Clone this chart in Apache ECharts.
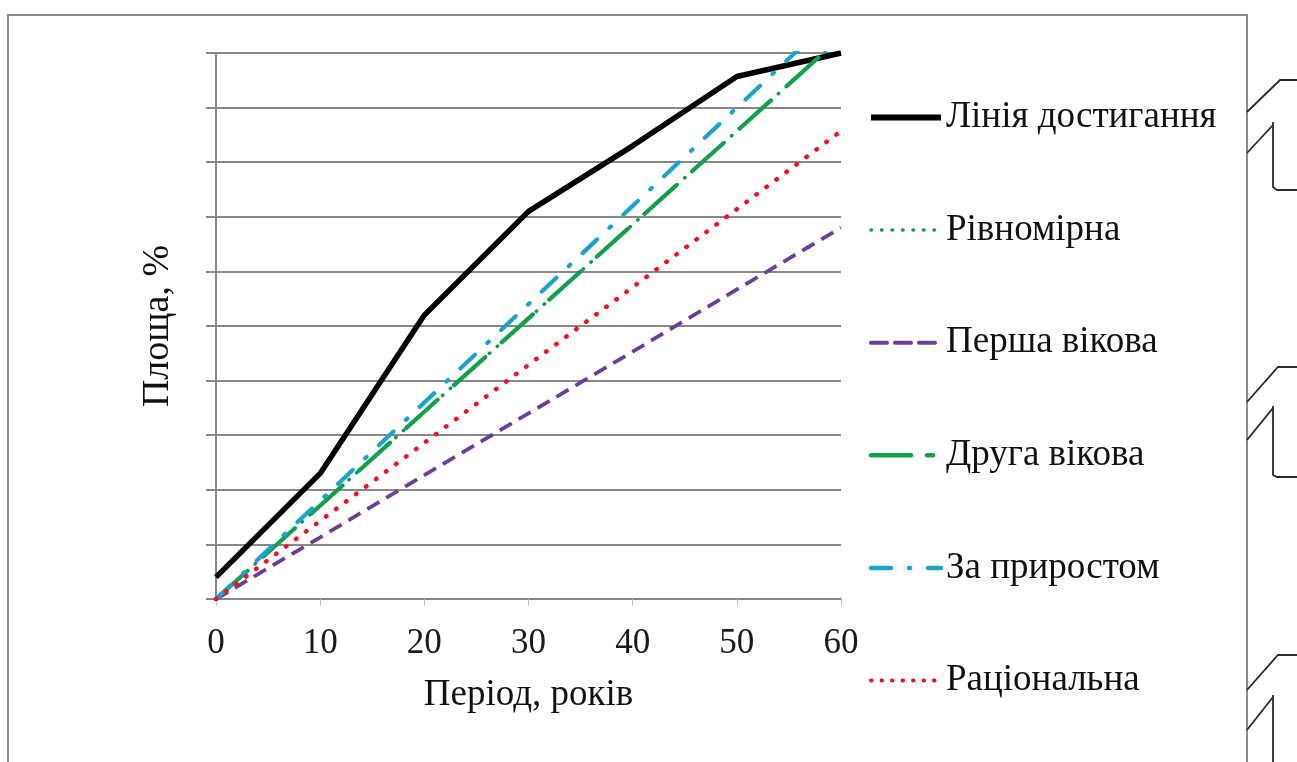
<!DOCTYPE html>
<html>
<head>
<meta charset="utf-8">
<script src="https://cdn.jsdelivr.net/npm/echarts@6/dist/echarts.min.js"></script>
<style>
html,body{margin:0;padding:0;background:#fff;}
#chart{width:1297px;height:762px;}
</style>
</head>
<body>
<div id="chart"></div>
<script>
// ---- data ----
const years = [0, 10, 20, 30, 40, 50, 60];
const xTicks = [0, 10, 20, 30, 40, 50, 60];
const seriesNames = ['Лінія достигання', 'Рівномірна', 'Перша вікова', 'Друга вікова', 'За приростом', 'Раціональна'];
const maturity   = [4, 23, 52, 71, 83, 95.7, 100];
const uniform    = [0, 17.1, 34.3, 51.4, 68.6, 85.7, 102.9];
const firstAge   = [0, 11.3, 22.7, 34, 45.3, 56.7, 68];
const secondAge  = [0, 17.1, 34.3, 51.4, 68.6, 85.7, 102.9];
const byGrowth   = [0, 18, 36, 54, 72, 90, 108];
const rational   = [0, 14.3, 28.6, 42.9, 57.1, 71.4, 85.7];
const xAxisTitle = 'Період, років';
const yAxisTitle = 'Площа, %';

const pairs = arr => years.map((x, i) => [x, arr[i]]);
const FONT = 'Liberation Serif';

const styles = [
  {color: '#000000', width: 5.5, type: 'solid', cap: 'butt'},
  {color: '#119a4a', width: 3.5, type: [0.5, 10], cap: 'round'},
  {color: '#6a3f98', width: 3.8, type: [14, 8], cap: 'butt'},
  {color: '#12a04e', width: 4.2, type: [42, 22], cap: 'round'},
  {color: '#1aa4cc', width: 4.2, type: [20, 17, 2, 17], cap: 'round'},
  {color: '#f0102a', width: 4.5, type: [0.5, 12], cap: 'round'}
];
const legendStyles = [
  {color: '#000000', width: 6, type: 'solid', cap: 'butt'},
  {color: '#119a4a', width: 3.5, type: [0.5, 10], cap: 'round'},
  {color: '#6a3f98', width: 4, type: [16, 8], cap: 'round'},
  {color: '#12a04e', width: 4.5, type: [40, 16, 6, 16], cap: 'round'},
  {color: '#1aa4cc', width: 4.5, type: [20, 18, 1, 18], cap: 'round'},
  {color: '#f0102a', width: 4, type: [0.5, 10], cap: 'round'}
];
const lineData = [maturity, uniform, firstAge, secondAge, byGrowth, rational];

const chart = echarts.init(document.getElementById('chart'), null, {renderer: 'canvas'});

const deco = (pts) => ({
  type: 'polyline', silent: true, z: 0,
  shape: {points: pts},
  style: {stroke: '#2a2a2a', lineWidth: 1.8, fill: null}
});

chart.setOption({
  backgroundColor: '#ffffff',
  animation: false,
  textStyle: {fontFamily: FONT},
  grid: {left: 216, top: 53, width: 625, height: 546},
  xAxis: {
    type: 'value', min: 0, max: 60, interval: 10,
    name: xAxisTitle, nameLocation: 'middle', nameGap: 78,
    nameTextStyle: {fontFamily: FONT, fontSize: 37, color: '#111'},
    axisLine: {show: true, lineStyle: {color: '#888', width: 2}},
    axisTick: {show: true, inside: false, length: 7, lineStyle: {color: '#c4c4c4', width: 1}},
    axisLabel: {fontFamily: FONT, fontSize: 35, color: '#1a1a1a', margin: 27,
      formatter: v => xTicks.indexOf(v) >= 0 ? String(v) : ''},
    splitLine: {show: false}
  },
  yAxis: {
    type: 'value', min: 0, max: 100, interval: 10,
    name: yAxisTitle, nameLocation: 'middle', nameGap: 39, nameRotate: 90,
    nameTextStyle: {fontFamily: FONT, fontSize: 38, color: '#111'},
    axisLine: {show: true, lineStyle: {color: '#888', width: 2}},
    axisTick: {show: true, inside: false, length: 10, lineStyle: {color: '#888', width: 2}},
    axisLabel: {show: false},
    splitLine: {show: true, lineStyle: {color: '#888', width: 2}}
  },
  legend: {
    orient: 'vertical', left: 863, top: 94,
    itemWidth: 70, itemHeight: 14, itemGap: 75.6,
    itemStyle: {opacity: 0},
    textStyle: {fontFamily: FONT, fontSize: 37, color: '#111'},
    data: seriesNames.map((n, i) => ({
      name: n,
      itemStyle: {opacity: 0},
      lineStyle: legendStyles[i]
    }))
  },
  series: seriesNames.map((n, i) => ({
    name: n, type: 'line', data: pairs(lineData[i]), symbol: 'none',
    z: 2 + i, itemStyle: {color: styles[i].color},
    lineStyle: styles[i]
  })),
  graphic: [
    {type: 'rect', silent: true, z: 0, shape: {x: 8, y: 15, width: 1239, height: 780},
      style: {stroke: '#8a8a8a', lineWidth: 2, fill: null}},
    deco([[1247, 112], [1280, 80], [1297, 80]]),
    deco([[1247, 153], [1273, 125]]),
    deco([[1273, 122], [1273, 187], [1277, 190], [1297, 190]]),
    deco([[1247, 402], [1278, 367], [1297, 367]]),
    deco([[1247, 440], [1273, 408]]),
    deco([[1273, 406], [1273, 475], [1277, 477], [1297, 477]]),
    deco([[1247, 690], [1278, 655], [1297, 655]]),
    deco([[1247, 730], [1273, 697]]),
    deco([[1273, 695], [1273, 762]])
  ]
});
</script>
</body>
</html>
